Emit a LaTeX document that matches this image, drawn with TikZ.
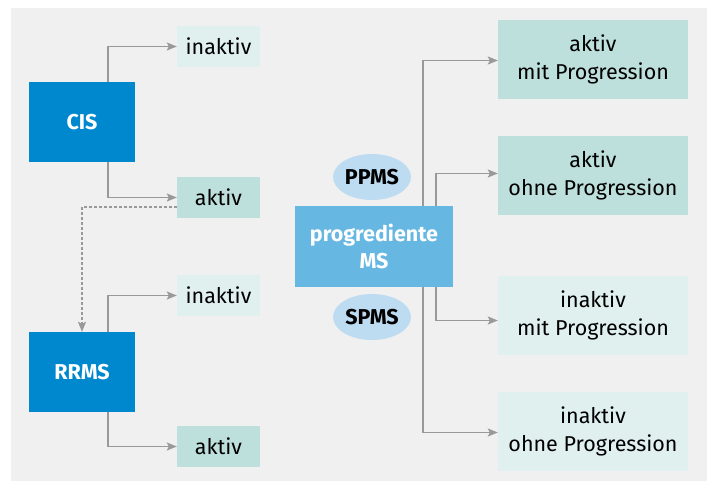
\documentclass[tikz,border=0pt]{standalone}
\usepackage{fontspec}
\setmainfont{Fira Sans}
\usetikzlibrary{arrows.meta, shapes.geometric}
\definecolor{bggray}{HTML}{F0F0F0}
\definecolor{darkblue}{HTML}{0088CF}
\definecolor{midblue}{HTML}{66B7E2}
\definecolor{paleblue}{HTML}{BDDCF2}
\definecolor{darkteal}{HTML}{BEE0DC}
\definecolor{paleteal}{HTML}{E0F0EE}
\definecolor{linegray}{HTML}{999999}

\begin{document}
\begin{tikzpicture}[x=1pt, y=-1pt, font=\fontsize{21.5}{28}\selectfont,
    box/.style={inner sep=0pt, align=center},
    mainbox/.style={box, fill=darkblue, text=white, font=\fontsize{21.5}{28}\selectfont\bfseries,
        minimum width=106pt, minimum height=80pt},
    smallbox/.style={box, minimum width=83pt, minimum height=41pt},
    widebox/.style={box, minimum width=190pt, minimum height=79pt},
    tag/.style={ellipse, inner sep=0pt, fill=paleblue, font=\fontsize{21.5}{28}\selectfont\bfseries,
        minimum width=78pt, minimum height=46pt},
    arr/.style={linegray, line width=1.4pt, -{Stealth[length=10pt, width=8pt, inset=2pt]}}]
            \useasboundingbox (0,0) rectangle (707,481);
            \fill[bggray] (11,8) rectangle (707,481);
            % left column
            \node[mainbox] (cis) at (82,122) {CIS};
            \node[mainbox] (rrms) at (82,372) {RRMS};
            \node[smallbox, fill=paleteal] (cisinakt) at (218.5,46.5) {inaktiv};
            \node[smallbox, fill=darkteal] (cisakt) at (218.5,197.5) {aktiv};
            \node[smallbox, fill=paleteal] (rrinakt) at (218.5,295.5) {inaktiv};
            \node[smallbox, fill=darkteal] (rrakt) at (218.5,446.5) {aktiv};
            \draw[arr] ([xshift=26pt]cis.north) |- (cisinakt.west);
            \draw[arr] ([xshift=26pt]cis.south) |- (cisakt.west);
            \draw[arr] ([xshift=26pt]rrms.north) |- (rrinakt.west);
            \draw[arr] ([xshift=26pt]rrms.south) |- (rrakt.west);
            \draw[arr, dash pattern=on 2.5pt off 2.5pt] ([yshift=11pt]cisakt.south west) -| (rrms.north);
            % right column
            \node[box, fill=midblue, text=white, font=\fontsize{21.5}{27}\selectfont\bfseries,
                minimum width=158pt, minimum height=81pt] (prog) at (374,246.5) {progrediente\\MS};
            \node[tag] (ppms) at (372,177) {PPMS};
            \node[tag] (spms) at (372,317) {SPMS};
            \node[widebox, fill=darkteal] (aktmit) at (593,59.5) {aktiv\\mit Progression};
            \node[widebox, fill=darkteal] (aktohne) at (593,175.5) {aktiv\\ohne Progression};
            \node[widebox, fill=paleteal] (inaktmit) at (593,315.5) {inaktiv\\mit Progression};
            \node[widebox, fill=paleteal] (inaktohne) at (593,431.5) {inaktiv\\ohne Progression};
            \draw[arr] ([xshift=49pt]prog.north) |- ([yshift=-1pt]aktmit.west);
            \draw[arr] ([xshift=62pt]prog.north) |- ([yshift=2pt]aktohne.west);
            \draw[arr] ([xshift=62pt]prog.south) |- ([yshift=-5pt]inaktmit.west);
            \draw[arr] ([xshift=49pt]prog.south) |- ([yshift=-1pt]inaktohne.west);
\end{tikzpicture}
\end{document}
